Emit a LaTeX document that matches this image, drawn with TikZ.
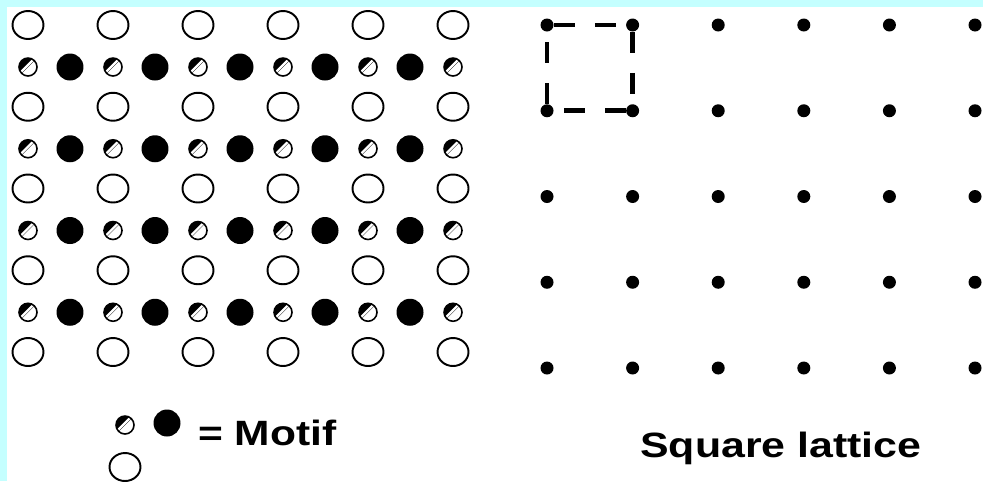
\documentclass[tikz,border=0pt]{standalone}
\usepackage{fontspec}
\setmainfont{Liberation Sans}
\usetikzlibrary{shapes.geometric}
\definecolor{skyedge}{RGB}{196,255,255}

\begin{document}
\begin{tikzpicture}[
    x=0.02cm, y=-0.02cm,
    open/.style={ellipse, draw, line width=1.1pt, minimum width=0.62cm, minimum height=0.56cm, inner sep=0pt},
    full/.style={circle, fill=black, minimum size=0.54cm, inner sep=0pt},
    hatch/.style={circle, draw, fill=white, line width=0.9pt, minimum size=0.36cm, inner sep=0pt,
        path picture={
            \fill[black] (path picture bounding box.north west) -- (path picture bounding box.north east)
                -- (path picture bounding box.south west) -- cycle;
            \draw[white, line width=1.3pt] ([shift={(-0.6pt,0.6pt)}]path picture bounding box.south west)
                -- ([shift={(-0.6pt,0.6pt)}]path picture bounding box.north east);
        }},
    dot/.style={circle, fill=black, minimum size=0.26cm, inner sep=0pt},
    cell/.style={dash pattern=on 0.42cm off 0.4cm, line width=2.7pt},
    legendtext/.style={font=\bfseries\fontsize{20}{24}\selectfont, anchor=base west, inner sep=0pt}
]
\useasboundingbox (0,0) rectangle (983,481);
\fill[skyedge] (0,0) rectangle (983,481);
\fill[white] (7,7) rectangle (983,481);

% crystal: open circles and motif rows
\foreach \j in {0,...,4}
    \foreach \i in {0,...,5}
        \node[open] (o-\i-\j) at ({28+85*\i},{25+81.75*\j}) {};
\foreach \j in {0,...,3} {
    \foreach \i in {0,...,5}
        \node[hatch] (h-\i-\j) at ({28+85*\i},{67+81.75*\j}) {};
    \foreach \i in {0,...,4}
        \node[full] (f-\i-\j) at ({70+85*\i},{67+81.75*\j}) {};
}

% lattice points
\foreach \j in {0,...,4}
    \foreach \i in {0,...,5}
        \node[dot] (p-\i-\j) at ({547+85.6*\i},{25+85.75*\j}) {};

% unit cell
\draw[cell] (p-0-0) -- (p-1-0) -- (p-1-1) -- (p-0-1) -- (p-0-0);

% legend
\node[hatch] (key-h) at (125,425) {};
\node[full] (key-f) at (167,423) {};
\node[open] (key-o) at (125,467) {};
\node[legendtext] (motif) at (198,445) {\scalebox{1.21}[1]{= Motif}};
\node[legendtext] (lattice) at (640,457) {\scalebox{1.22}[1]{Square lattice}};
\end{tikzpicture}
\end{document}
